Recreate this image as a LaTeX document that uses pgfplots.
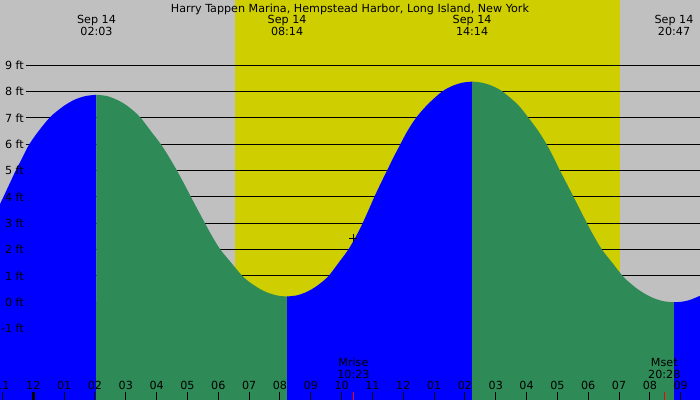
\documentclass[border=0pt]{standalone}
\usepackage{pgfplots}
\pgfplotsset{compat=1.18}
\usepackage{fontspec}
\setmainfont{DejaVu Sans}
\definecolor{bggray}{RGB}{192,192,192}
\definecolor{dayyellow}{RGB}{206,206,0}
\definecolor{tideblue}{RGB}{0,0,255}
\definecolor{tidegreen}{RGB}{46,139,87}
\newcommand{\fs}{\fontsize{11.2}{13}\selectfont}
\begin{document}
\begin{tikzpicture}
\begin{axis}[
  scale only axis, width=700bp, height=400bp,
  xmin=-1.08, xmax=21.625, ymin=-3.71, ymax=11.48,
  axis background/.style={fill=bggray},
  axis line style={draw=none},
  axis on top,
  xtick={-1,0,...,21},
  xticklabels={11,12,01,02,03,04,05,06,07,08,09,10,11,12,01,02,03,04,05,06,07,08,09},
  xtick pos=lower, ytick pos=left,
  tick align=inside, major tick length=8bp,
  xtick style={black, line width=1bp},
  x tick label style={anchor=base, yshift=10.7bp, inner sep=0pt, font=\fs},
  ytick={-1,0,...,9},
  yticklabels={-1 ft,0 ft,1 ft,2 ft,3 ft,4 ft,5 ft,6 ft,7 ft,8 ft,9 ft},
  ytick style={draw=none},
  y tick label style={anchor=east, xshift=24bp, inner sep=0pt, font=\fs},
]
% daylight
\fill[dayyellow] (axis cs:6.542,-3.71) rectangle (axis cs:19.04,11.48);
% level lines
\foreach \v in {-1,0,...,9} {
  \edef\tmp{\noexpand\draw[black, line width=1bp] (axis cs:-0.237,\v) -- (axis cs:21.7,\v);}
  \tmp
}
% bottoms of the areas
\fill[tideblue] (axis cs:-1.2,-3.8) rectangle (axis cs:2.05,0.02);
\fill[tidegreen] (axis cs:2.05,-3.8) rectangle (axis cs:8.233,0.02);
\fill[tideblue] (axis cs:8.233,-3.8) rectangle (axis cs:14.233,0.02);
\fill[tidegreen] (axis cs:14.233,-3.8) rectangle (axis cs:20.783,0.02);
\fill[tideblue] (axis cs:20.783,-3.8) rectangle (axis cs:21.7,0.02);
% rising
\addplot[draw=none, fill=tideblue, smooth] coordinates {
 (-1.10,3.68) (-0.97,4.0) (-0.77,4.5) (-0.57,5.0) (-0.35,5.5) (-0.13,6.0) (0.17,6.5)
 (0.52,7.0) (0.78,7.27) (1.045,7.5) (1.35,7.70) (1.70,7.834) (2.05,7.88)
} \closedcycle;
% falling
\addplot[draw=none, fill=tidegreen, smooth] coordinates {
 (2.05,7.88) (2.40,7.83) (2.75,7.67) (3.00,7.5) (3.25,7.27) (3.49,7.0) (3.813,6.5)
 (4.14,6.0) (4.412,5.5) (4.66,5.0) (4.892,4.5) (5.115,4.0) (5.34,3.5) (5.57,3.0)
 (5.804,2.5) (6.07,2.0) (6.42,1.5) (6.78,1.0) (7.05,0.736) (7.362,0.5) (7.65,0.345)
 (7.95,0.25) (8.233,0.22)
} \closedcycle;
% rising
\addplot[draw=none, fill=tideblue, smooth] coordinates {
 (8.233,0.22) (8.55,0.263) (8.80,0.36) (9.039,0.5) (9.30,0.71) (9.578,1.0) (9.902,1.5)
 (10.217,2.0) (10.465,2.5) (10.681,3.0) (10.874,3.5) (11.061,4.0) (11.263,4.5)
 (11.472,5.0) (11.682,5.5) (11.904,6.0) (12.133,6.5) (12.413,7.0) (12.78,7.5)
 (13.256,8.0) (13.60,8.22) (13.92,8.34) (14.233,8.38)
} \closedcycle;
% falling
\addplot[draw=none, fill=tidegreen, smooth] coordinates {
 (14.233,8.38) (14.55,8.34) (14.90,8.21) (15.222,8.0) (15.72,7.5) (16.066,7.0)
 (16.384,6.5) (16.65,6.0) (16.876,5.5) (17.084,5.0) (17.304,4.5) (17.525,4.0)
 (17.74,3.5) (17.96,3.0) (18.188,2.5) (18.446,2.0) (18.78,1.5) (19.115,1.0)
 (19.35,0.737) (19.603,0.5) (19.873,0.30) (20.15,0.144) (20.45,0.04) (20.783,0.0)
} \closedcycle;
% rising
\addplot[draw=none, fill=tideblue, smooth] coordinates {
 (20.783,0.0) (21.05,0.025) (21.30,0.09) (21.65,0.26)
} \closedcycle;
% moonrise mark on the curve
\addplot[only marks, mark=+, mark size=4bp, black, line width=1bp] coordinates {(10.383,2.43)};
% special ticks
\draw[black, line width=3bp] (axis cs:0,-3.71) -- (axis cs:0,-3.406);
\draw[red, line width=1bp] (axis cs:10.383,-3.71) -- (axis cs:10.383,-3.406);
\draw[red, line width=1bp] (axis cs:20.467,-3.71) -- (axis cs:20.467,-3.406);
% title and extremes
\node[anchor=base, font=\fs, inner sep=0pt] at (axis cs:10.27,11.024) {Harry Tappen Marina, Hempstead Harbor, Long Island, New York};
\node[anchor=base, font=\fs, inner sep=0pt] at (axis cs:2.05,10.569) {Sep 14};
\node[anchor=base, font=\fs, inner sep=0pt] at (axis cs:2.05,10.113) {02:03};
\node[anchor=base, font=\fs, inner sep=0pt] at (axis cs:8.233,10.569) {Sep 14};
\node[anchor=base, font=\fs, inner sep=0pt] at (axis cs:8.233,10.113) {08:14};
\node[anchor=base, font=\fs, inner sep=0pt] at (axis cs:14.233,10.569) {Sep 14};
\node[anchor=base, font=\fs, inner sep=0pt] at (axis cs:14.233,10.113) {14:14};
\node[anchor=base, font=\fs, inner sep=0pt] at (axis cs:20.783,10.569) {Sep 14};
\node[anchor=base, font=\fs, inner sep=0pt] at (axis cs:20.783,10.113) {20:47};
% moon
\node[anchor=base, font=\fs, inner sep=0pt] at (axis cs:10.383,-2.419) {Mrise};
\node[anchor=base, font=\fs, inner sep=0pt] at (axis cs:10.383,-2.875) {10:23};
\node[anchor=base, font=\fs, inner sep=0pt] at (axis cs:20.467,-2.419) {Mset};
\node[anchor=base, font=\fs, inner sep=0pt] at (axis cs:20.467,-2.875) {20:28};
\coordinate (BL) at (rel axis cs:0,0);
\coordinate (TR) at (rel axis cs:1,1);
\end{axis}
\pgfresetboundingbox
\path[use as bounding box] (BL) rectangle (TR);
\end{tikzpicture}
\end{document}
